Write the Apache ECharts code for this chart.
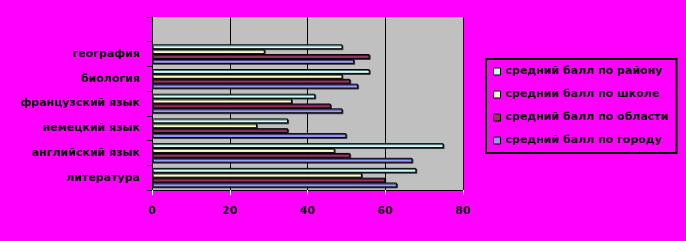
<!DOCTYPE html>
<html><head><meta charset="utf-8">
<script src="https://cdn.jsdelivr.net/npm/echarts@6/dist/echarts.min.js"></script>
<style>html,body{margin:0;padding:0;background:#FF00FF;}#c{width:686px;height:241px;}</style>
</head><body><div id="c"></div>
<script>
const categories = ['литература', 'английский язык', 'немецкий язык', 'французский язык', 'биология', 'география', ''];
const seriesNames = ['средний балл по району', 'средний балл по школе', 'средний балл по области', 'средний балл по городу'];
const rayon  = [68, 75, 35, 42, 56, 49, null];
const shkola = [54, 47, 27, 36, 49, 29, null];
const oblast = [60, 51, 35, 46, 51, 56, null];
const gorod  = [63, 67, 50, 49, 53, 52, null];
const xTicks = { min: 0, max: 80, interval: 20 };
const colors = ['#CCFFFF', '#FFFFCC', '#993366', '#9999FF'];

const font = 'DejaVu Sans';
const labelStyle = {
  color: '#000', fontFamily: font, fontWeight: 'bold', fontSize: 11,
  textShadowColor: '#fff', textShadowOffsetX: -1, textShadowOffsetY: -1, textShadowBlur: 0
};
const data = [rayon, shkola, oblast, gorod];
const chart = echarts.init(document.getElementById('c'), null, { renderer: 'canvas' });
chart.setOption({
  backgroundColor: '#FF00FF',
  animation: false,
  grid: { left: 152, right: 223, top: 17, bottom: 51, show: true, backgroundColor: '#C0C0C0', borderWidth: 0 },
  xAxis: {
    type: 'value', min: xTicks.min, max: xTicks.max, interval: xTicks.interval,
    axisLine: { show: true, lineStyle: { color: '#000', width: 1 } },
    axisTick: { show: true, length: 5, lineStyle: { color: '#fff' } },
    splitLine: { show: true, lineStyle: { color: '#000', width: 1 } },
    axisLabel: Object.assign({ margin: 16 }, labelStyle)
  },
  yAxis: {
    type: 'category', data: categories,
    axisLine: { show: true, lineStyle: { color: '#000', width: 1 } },
    axisTick: { show: true, length: 5, lineStyle: { color: '#000' } },
    axisLabel: Object.assign({ margin: 12 }, labelStyle)
  },
  legend: {
    orient: 'vertical', left: 486, top: 59, width: 186,
    padding: [7, 8, 7, 7], itemGap: 12,
    itemWidth: 7, itemHeight: 7,
    borderColor: '#000', borderWidth: 2,
    icon: 'rect',
    itemStyle: { borderColor: '#000', borderWidth: 1, shadowColor: 'rgba(0,0,0,0)', shadowBlur: 0, shadowOffsetX: 0, shadowOffsetY: 0 },
    textStyle: Object.assign({ padding: [0, 0, 0, 0] }, labelStyle),
    data: seriesNames
  },
  series: seriesNames.map((n, i) => ({
    name: n, type: 'bar', data: data[i],
    barCategoryGap: '21%', barGap: '0%',
    itemStyle: {
      color: colors[i], borderColor: '#000', borderWidth: 1,
      shadowColor: 'rgba(0,0,0,0.6)', shadowOffsetX: 1, shadowOffsetY: 1, shadowBlur: 0
    }
  }))
});
</script></body></html>
